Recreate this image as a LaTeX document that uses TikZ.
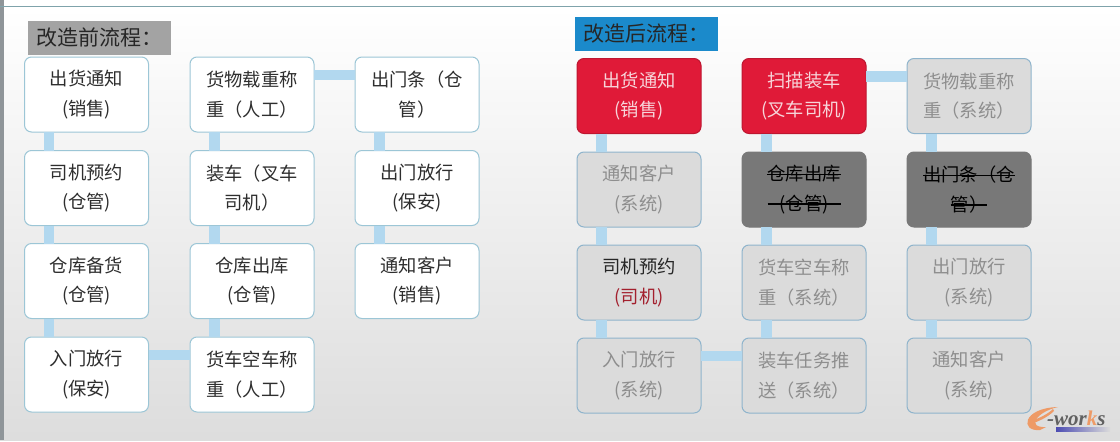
\documentclass[tikz,border=0pt]{standalone}
\usepackage{fontspec}
\setmainfont{Noto Sans CJK SC}
\newfontfamily\logofont{Liberation Serif}[BoldItalicFont={Liberation Serif Bold Italic}]
\newsavebox{\strikebox}
\newcommand{\strikeit}[1]{\leavevmode\sbox{\strikebox}{#1}\rlap{\raisebox{5.6pt}{\rule{\wd\strikebox}{1.3pt}}}\usebox{\strikebox}}
\definecolor{linkblue}{HTML}{B2D8EF}
\definecolor{edgeblue}{HTML}{9CC6D6}
\definecolor{graybox}{HTML}{DBDBDB}
\definecolor{grayedge}{HTML}{8FB4CC}
\definecolor{graytext}{HTML}{8E8E8E}
\definecolor{darkbox}{HTML}{787878}
\definecolor{redbox}{HTML}{E01A38}
\definecolor{redtext}{HTML}{F7D5DA}
\definecolor{darkred}{HTML}{A3202E}
\definecolor{titleblue}{HTML}{1B8ACB}
\definecolor{titlegray}{HTML}{A3A3A3}
\definecolor{barGray}{HTML}{8F9599}
\definecolor{rulecol}{HTML}{7FA3AB}
\definecolor{logoorange}{HTML}{EE9A66}
\tikzset{
  flowbox/.style={minimum width=124pt,minimum height=75pt,rounded corners=7pt,line width=1pt,outer sep=0pt,inner sep=0pt,align=center,text width=110pt,font=\fontsize{18.3}{29.5}\selectfont},
  whitebox/.style={flowbox,draw=edgeblue,fill=white,text=black!82},
  greybox/.style={flowbox,draw=grayedge,fill=graybox,text=graytext},
  blackbox/.style={flowbox,draw=darkbox,fill=darkbox,text=black},
  crimsonbox/.style={flowbox,draw=redbox!85!black,fill=redbox,text=redtext},
  titlebox/.style={anchor=west,inner sep=0pt,outer sep=0pt,font=\fontsize{21}{25}\selectfont,text=black!85},
  link/.style={linkblue,line width=10.5pt}
}
\begin{document}
\begin{tikzpicture}[x=1pt,y=-1pt]
\useasboundingbox (0,0) rectangle (1120,442);
\fill[white] (0,0) rectangle (1120,442);
\shade[top color=white,bottom color=graybox!95!white] (0,7) rectangle (1120,440);
\fill[barGray] (0,0) rectangle (4,440);
\draw[color=rulecol,line width=1.2pt] (0,6.5) -- (1120,6.5);

% titles
\fill[titlegray] (28,21) rectangle (171,55);
\node[titlebox] (t1) at (36.5,38) {改造前流程：};
\fill[titleblue] (575,17) rectangle (718,51);
\node[titlebox] (t2) at (583.5,34) {改造后流程：};

% left flow
\node[whitebox] (a1) at (86.5,94.5) {出货通知\\(销售)};
\node[whitebox] (a2) at (86.5,188) {司机预约\\(仓管)};
\node[whitebox] (a3) at (86.5,281) {仓库备货\\(仓管)};
\node[whitebox] (a4) at (86.5,374.5) {入门放行\\(保安)};
\node[whitebox] (b1) at (252,94.5) {货物载重称\\重（人工）};
\node[whitebox] (b2) at (252,188) {装车（叉车\\司机）};
\node[whitebox] (b3) at (252,281) {仓库出库\\(仓管)};
\node[whitebox] (b4) at (252,374.5) {货车空车称\\重（人工）};
\node[whitebox] (c1) at (417,94.5) {出门条（仓\\管）};
\node[whitebox] (c2) at (417,188) {出门放行\\(保安)};
\node[whitebox] (c3) at (417,281) {通知客户\\(销售)};

% right flow
\node[crimsonbox] (d1) at (639,96) {出货通知\\(销售)};
\node[greybox] (d2) at (639,189.5) {通知客户\\(系统)};
\node[greybox] (d3) at (639,282.5) {\textcolor{black!85}{司机预约}\\\textcolor{darkred}{(司机)}};
\node[greybox] (d4) at (639,375.5) {入门放行\\(系统)};
\node[crimsonbox] (e1) at (804,96) {扫描装车\\(叉车司机)};
\node[blackbox] (e2) at (804,189.5) {\strikeit{仓库出库}\\\strikeit{\makebox[73pt]{(仓管)}}};
\node[greybox] (e3) at (804,282.5) {货车空车称\\重（系统）};
\node[greybox] (e4) at (804,375.5) {装车任务推\\送（系统）};
\node[greybox] (f1) at (969,96) {货物载重称\\重（系统）};
\node[blackbox] (f2) at (969,189.5) {\strikeit{出门条（仓}\\\strikeit{管）}};
\node[greybox] (f3) at (969,282.5) {出门放行\\(系统)};
\node[greybox] (f4) at (969,375.5) {通知客户\\(系统)};

% connectors
\foreach \p/\q in {a1/a2,a2/a3,a3/a4,b1/b2,b2/b3,b3/b4,c1/c2,c2/c3,d1/d2,d2/d3,d3/d4,e1/e2,e2/e3,e3/e4,f1/f2,f2/f3,f3/f4}
  \draw[link] ([xshift=24.5pt]\p.south west) -- ([xshift=24.5pt]\q.north west);
\foreach \p/\q in {a4/b4,b1/c1,d4/e4,e1/f1}
  \draw[link] ([yshift=-18pt]\p.north east) -- ([yshift=-18pt]\q.north west);

% logo
\fill[logoorange] (1040,430) .. controls (1020,432) and (1022,408) .. (1058,407)
  .. controls (1036,412) and (1026,428) .. (1046,427) -- cycle;
\fill[logoorange] (1030,421) .. controls (1038,419) and (1048,414) .. (1053,409) -- (1054,411) .. controls (1048,417) and (1038,422) .. (1030,424) -- cycle;
\shade[left color=blue!40!gray,right color=graybox] (1056,427) rectangle (1110,431);
\node[anchor=west,inner sep=0pt,font=\logofont\bfseries\itshape\fontsize{21}{21}\selectfont,text=black!62] (logo) at (1047,418) {-wor\textcolor{logoorange}{k}s};
\end{tikzpicture}
\end{document}
